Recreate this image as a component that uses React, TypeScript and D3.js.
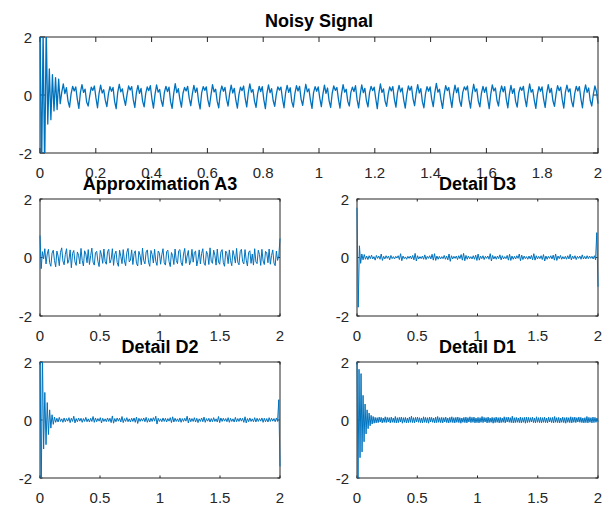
import React from "react";
import * as d3 from "d3";

// ---------- data (time axis 0..2) ----------
const NOISY_SIGNAL: number[] = [
  2.6, -2.8, 2.2, -2.6, 2.3, -1.0, 0.9, -0.85, 0.7, -0.55, 0.6, -0.5, 0.55, -0.3,
  .10, .38, .05, .25, -.20, -.42,
  .04, .30, .14, .28, -.14, -.46,
  .08, .36, .09, .20, -.24, -.38,
  -.02, .27, .16, .31, -.10, -.44,
  .06, .34, .07, .18, -.18, -.40,
  .03, .29, .13, .26, -.22, -.47,
  .09, .37, .11, .21, -.12, -.36,
  .01, .31, .17, .29, -.16, -.43,
  .07, .33, .06, .23, -.21, -.41,
  .05, .28, .15, .32, -.13, -.45,
  .02, .35, .10, .19, -.19, -.39,
  .08, .30, .12, .27, -.23, -.46,
  .04, .39, .08, .22, -.15, -.42,
  .06, .26, .14, .30, -.11, -.37,
  .03, .33, .09, .24, -.20, -.48,
  .07, .29, .16, .28, -.17, -.40,
  .00, .36, .11, .20, -.22, -.44,
  .09, .31, .13, .26, -.14, -.38,
  .05, .34, .07, .23, -.18, -.45,
  .02, .27, .15, .31, -.12, -.41,
  .08, .38, .10, .19, -.21, -.43,
  .04, .30, .12, .29, -.16, -.47,
  .06, .35, .08, .22, -.19, -.39,
  .01, .28, .17, .27, -.13, -.44,
  .07, .33, .09, .25, -.23, -.42,
  .05, .32, .14, .30, -.15, -.36,
  .03, .37, .11, .21, -.18, -.46,
  .08, .29, .13, .28, -.11, -.40,
  .02, .34, .06, .24, -.20, -.43,
  .06, .31, .16, .26, -.14, -.45,
  .04, .36, .10, .20, -.22, -.38,
  .09, .27, .12, .32, -.16, -.44,
  .01, .35, .08, .23, -.19, -.41,
  .07, .30, .15, .27, -.12, -.47,
  .05, .38, .09, .21, -.21, -.39,
  .03, .28, .14, .29, -.15, -.42,
  .08, .33, .11, .24, -.17, -.45,
  .02, .31, .16, .30, -.13, -.37,
  .06, .36, .07, .22, -.23, -.44,
  .04, .29, .13, .28, -.14, -.40,
  .07, .40, .10, .20, -.18, -.46,
  .01, .32, .15, .26, -.11, -.43,
  .05, .34, .08, .25, -.20, -.39,
  .09, .28, .17, .31, -.16, -.45,
  .03, .37, .12, .21, -.21, -.41,
  .06, .30, .09, .27, -.13, -.47,
  .02, .35, .14, .24, -.19, -.38,
  .08, .31, .11, .29, -.15, -.44,
  .04, .33, .06, .22, -.22, -.42,
  .07, .27, .16, .30, -.12, -.40,
  .05, .38, .10, .19, -.18, -.46,
  .01, .29, .13, .28, -.14, -.43,
  .06, .36, .08, .23, -.20, -.39,
  .03, .32, .15, .27, -.16, -.45,
  .09, .34, .11, .21, -.21, -.41,
  .04, .30, .14, .29, -.13, -.44,
  .07, .35, .09, .24, -.19, -.38,
  .02, .31, .12, -.30,
];

const APPROX_A3: number[] = [
  .75, -.38, .20, -.05, .30, -.22, .12, .28, -.18, -.30,
  .15, .25, -.10, -.32, .22, .05, -.28, .18, .33, -.12,
  -.25, .10, .30, -.20, -.08, .26, -.35, .14, .24, -.15,
  -.27, .19, .08, -.22, .31, -.10, -.29, .23, .12, -.18,
  .27, -.24, .06, .32, -.16, -.26, .17, .21, -.13, -.31,
  .24, .09, -.20, .29, -.14, -.23, .20, .28, -.19, -.07,
  .30, -.27, .11, .22, -.17, -.30, .25, .04, -.21, .27,
  -.12, -.28, .18, .31, -.15, -.09, .26, -.24, .13, .23,
  -.20, -.29, .21, .07, -.25, .32, -.11, -.22, .19, .26,
  -.16, -.30, .24, .10, -.19, .28, -.13, -.27, .22, .15,
  -.23, .09, .30, -.18, -.26, .20, .25, -.14, -.31, .17,
  .06, -.24, .29, -.10, -.21, .23, .27, -.17, -.28, .12,
  .31, -.20, .05, .24, -.25, -.12, .28, -.16, .18, .22,
  -.29, -.08, .26, -.22, .14, .30, -.19, -.27, .21, .11,
  -.24, .33, -.13, -.20, .25, .08, -.26, .29, -.15, -.23,
  .19, .27, -.18, -.30, .22, .13, -.21, .26, -.11, -.28,
  .24, .06, -.19, .31, -.16, -.25, .20, .28, -.14, -.22,
  .27, -.09, -.29, .18, .23, -.20, .12, -.26, .30, -.15,
  -.21, .25, .10, -.27, .28, -.12, -.24, .21, .16, -.18,
  .29, -.23, .07, .26, -.19, -.28, .22, -.10, .05, .65,
];

const DETAIL_D3: number[] = [
  1.7, -1.7, .40, -.20, .12, -.08, .10, -.06, .05, -.07,
  .06, -.04, .08, -.05, .03, -.09, .07, -.03, .05, -.06,
  .12, -.10, .04, -.05, .06, -.03, .05, -.08, .07, -.04,
  .03, -.05, .04, -.02, .06, -.07, .13, -.11, .05, -.04,
  .02, -.06, .04, -.03, .05, -.05, .07, -.08, .14, -.12,
  .06, -.05, .03, -.04, .05, -.06, .09, -.07, .04, -.03,
  .06, -.05, .11, -.09, .13, -.10, .05, -.06, .04, -.05,
  .03, -.04, .07, -.06, .05, -.08, .12, -.13, .06, -.05,
  .04, -.03, .05, -.07, .06, -.04, .10, -.09, .14, -.11,
  .07, -.06, .05, -.04, .03, -.05, .06, -.06, .08, -.10,
  .12, -.09, .05, -.04, .06, -.07, .04, -.03, .05, -.06,
  .13, -.12, .07, -.05, .04, -.06, .05, -.04, .09, -.08,
  .06, -.05, .03, -.04, .07, -.09, .11, -.10, .05, -.06,
  .04, -.05, .06, -.03, .12, -.11, .08, -.07, .05, -.04,
  .03, -.06, .05, -.05, .07, -.08, .13, -.09, .06, -.05,
  .04, -.04, .06, -.07, .10, -.12, .05, -.06, .04, -.03,
  .06, -.05, .08, -.09, .12, -.10, .05, -.04, .07, -.06,
  .03, -.05, .04, -.06, .06, -.05, .11, -.08, .05, -.04,
  .06, -.07, .04, -.03, .05, -.06, .09, -.05, .04, -.05,
  .06, -.04, .05, -.03, .04, -.05, .06, -.08, .85, -1.0,
];

const DETAIL_D2: number[] = [
  2.5, -2.6, 2.3, -1.0, .95, -.85, .60, -.50, .35, -.28,
  .18, -.15, .10, -.08, .06, -.07, .09, -.05, .04, -.08,
  .07, -.06, .05, -.04, .08, -.09, .06, -.05, .13, -.10,
  .05, -.06, .07, -.04, .06, -.08, .05, -.05, .09, -.06,
  .04, -.07, .06, -.05, .12, -.08, .07, -.06, .05, -.04,
  .08, -.10, .06, -.05, .04, -.06, .07, -.05, .06, -.09,
  .14, -.11, .05, -.06, .07, -.04, .06, -.07, .12, -.09,
  .05, -.05, .08, -.06, .04, -.07, .06, -.05, .07, -.08,
  .10, -.12, .06, -.05, .05, -.04, .07, -.06, .09, -.08,
  .05, -.07, .06, -.05, .08, -.04, .13, -.14, .06, -.05,
  .04, -.06, .07, -.05, .06, -.07, .05, -.04, .08, -.09,
  .11, -.07, .06, -.05, .04, -.06, .07, -.08, .05, -.05,
  .06, -.04, .13, -.10, .07, -.06, .05, -.05, .08, -.07,
  .06, -.09, .04, -.05, .07, -.06, .10, -.08, .05, -.04,
  .06, -.07, .05, -.06, .08, -.05, .04, -.07, .12, -.09,
  .07, -.05, .06, -.04, .05, -.06, .08, -.08, .06, -.05,
  .04, -.07, .09, -.06, .05, -.05, .07, -.04, .06, -.08,
  .11, -.10, .05, -.06, .07, -.05, .04, -.06, .08, -.07,
  .06, -.05, .05, -.04, .07, -.08, .06, -.06, .05, -.07,
  .08, -.05, .06, -.04, .05, -.06, .07, -.05, .70, -1.6,
];

const DETAIL_D1: number[] = [
  2.3, -2.3, 1.75, -1.3, 1.6, -1.1, .85, -.75, .55, -.48,
  .35, -.30, .24, -.20, .16, -.14, .12, -.11, .09, -.10,
  .08, -.09, .10, -.07, .09, -.10, .07, -.08, .11, -.09,
  .09, -.07, .08, -.10, .10, -.08, .07, -.09, .12, -.10,
  .08, -.09, .09, -.07, .10, -.11, .08, -.08, .09, -.10,
  .07, -.09, .10, -.08, .13, -.09, .08, -.10, .09, -.07,
  .10, -.08, .08, -.09, .07, -.10, .11, -.08, .09, -.09,
  .08, -.11, .10, -.07, .09, -.08, .07, -.10, .10, -.09,
  .12, -.08, .08, -.09, .09, -.10, .08, -.07, .10, -.09,
  .07, -.10, .09, -.08, .11, -.09, .08, -.10, .09, -.08,
  .10, -.09, .08, -.11, .07, -.08, .09, -.09, .10, -.10,
  .08, -.07, .11, -.09, .09, -.08, .10, -.10, .07, -.09,
  .09, -.10, .08, -.08, .12, -.09, .09, -.07, .08, -.10,
  .10, -.09, .07, -.08, .09, -.11, .08, -.09, .10, -.08,
  .08, -.10, .09, -.09, .07, -.08, .11, -.10, .09, -.07,
  .10, -.08, .08, -.09, .13, -.10, .08, -.09, .09, -.08,
  .07, -.09, .10, -.10, .08, -.08, .09, -.11, .10, -.09,
  .09, -.08, .08, -.07, .10, -.09, .07, -.10, .11, -.08,
  .08, -.09, .09, -.10, .08, -.08, .10, -.09, .07, -.10,
  .10, -.07, .08, -.09, .09, -.10, .12, -.08, .08, -.09,
  .09, -.10, .07, -.08, .10, -.09, .08, -.11, .09, -.08,
  .08, -.09, .11, -.10, .09, -.08, .10, -.09, .08, -.07,
  .10, -.08, .09, -.09, .07, -.10, .08, -.09, .12, -.10,
  .09, -.08, .08, -.10, .10, -.09, .09, -.08, .07, -.06,
];

const TITLES = ["Noisy Signal", "Approximation A3", "Detail D3", "Detail D2", "Detail D1"];
const X_TICKS_TOP = [0, 0.2, 0.4, 0.6, 0.8, 1, 1.2, 1.4, 1.6, 1.8, 2];
const X_LABELS_TOP = ["0", "0.2", "0.4", "0.6", "0.8", "1", "1.2", "1.4", "1.6", "1.8", "2"];
const X_TICKS_SUB = [0, 0.5, 1, 1.5, 2];
const X_LABELS_SUB = ["0", "0.5", "1", "1.5", "2"];
const Y_TICKS = [-2, 0, 2];
const Y_LABELS = ["-2", "0", "2"];

const LINE_COLOR = "#0072BD";
const AXIS_COLOR = "#262626";
const FONT = "'Liberation Sans', Arial, Helvetica, sans-serif";

type PanelProps = {
  id: string;
  left: number;
  right: number;
  top: number;
  bottom: number;
  values: number[];
  xTicks: number[];
  xLabels: string[];
  title: string;
  titleY: number;
  tickLen: number;
  lineWidth: number;
};

function Panel(p: PanelProps) {
  const x = d3.scaleLinear().domain([0, 2]).range([p.left, p.right]);
  const y = d3.scaleLinear().domain([-2, 2]).range([p.bottom, p.top]);
  const n = p.values.length;
  const t = d3.scaleLinear().domain([0, n - 1]).range([0, 2]);
  const line = d3
    .line<number>()
    .x((_, i) => x(t(i)))
    .y((d) => y(d));
  const cx = (p.left + p.right) / 2;
  return (
    <g>
      <defs>
        <clipPath id={p.id}>
          <rect x={p.left - 1} y={p.top} width={p.right - p.left + 2} height={p.bottom - p.top} />
        </clipPath>
      </defs>
      <rect
        x={p.left}
        y={p.top}
        width={p.right - p.left}
        height={p.bottom - p.top}
        fill="#fff"
        stroke={AXIS_COLOR}
        strokeWidth={1}
      />
      {p.xTicks.map((v, i) => (
        <g key={"xt" + i}>
          <line x1={x(v)} x2={x(v)} y1={p.bottom} y2={p.bottom - p.tickLen} stroke={AXIS_COLOR} strokeWidth={1} />
          <line x1={x(v)} x2={x(v)} y1={p.top} y2={p.top + p.tickLen} stroke={AXIS_COLOR} strokeWidth={1} />
          <text
            x={x(v)}
            y={p.bottom + 25}
            textAnchor="middle"
            fontSize={15}
            fontFamily={FONT}
            fill={AXIS_COLOR}
          >
            {p.xLabels[i]}
          </text>
        </g>
      ))}
      {Y_TICKS.map((v, i) => (
        <g key={"yt" + i}>
          <line x1={p.left} x2={p.left + p.tickLen} y1={y(v)} y2={y(v)} stroke={AXIS_COLOR} strokeWidth={1} />
          <line x1={p.right} x2={p.right - p.tickLen} y1={y(v)} y2={y(v)} stroke={AXIS_COLOR} strokeWidth={1} />
          <text
            x={p.left - 8}
            y={y(v) + 5.5}
            textAnchor="end"
            fontSize={15}
            fontFamily={FONT}
            fill={AXIS_COLOR}
          >
            {Y_LABELS[i]}
          </text>
        </g>
      ))}
      <path
        d={line(p.values) || ""}
        fill="none"
        stroke={LINE_COLOR}
        strokeWidth={p.lineWidth}
        strokeLinejoin="round"
        clipPath={`url(#${p.id})`}
      />
      <text
        x={cx}
        y={p.titleY}
        textAnchor="middle"
        fontSize={18}
        fontWeight="bold"
        fontFamily={FONT}
        fill="#000"
      >
        {p.title}
      </text>
    </g>
  );
}

export default function App() {
  return (
    <svg
      width={609}
      height={508}
      style={{ position: "absolute", left: 0, top: 0, background: "#fff" }}
    >
      <rect x={0} y={0} width={609} height={508} fill="#fff" />
      <Panel id="c0" left={40} right={598} top={37} bottom={153} values={NOISY_SIGNAL}
        xTicks={X_TICKS_TOP} xLabels={X_LABELS_TOP} title={TITLES[0]} titleY={27} tickLen={5} lineWidth={1.3} />
      <Panel id="c1" left={40} right={280} top={199} bottom={316} values={APPROX_A3}
        xTicks={X_TICKS_SUB} xLabels={X_LABELS_SUB} title={TITLES[1]} titleY={189.5} tickLen={2.5} lineWidth={1} />
      <Panel id="c2" left={357} right={598} top={199} bottom={316} values={DETAIL_D3}
        xTicks={X_TICKS_SUB} xLabels={X_LABELS_SUB} title={TITLES[2]} titleY={189.5} tickLen={2.5} lineWidth={1} />
      <Panel id="c3" left={40} right={280} top={362} bottom={478} values={DETAIL_D2}
        xTicks={X_TICKS_SUB} xLabels={X_LABELS_SUB} title={TITLES[3]} titleY={353} tickLen={2.5} lineWidth={1} />
      <Panel id="c4" left={357} right={598} top={362} bottom={478} values={DETAIL_D1}
        xTicks={X_TICKS_SUB} xLabels={X_LABELS_SUB} title={TITLES[4]} titleY={353} tickLen={2.5} lineWidth={1} />
    </svg>
  );
}
